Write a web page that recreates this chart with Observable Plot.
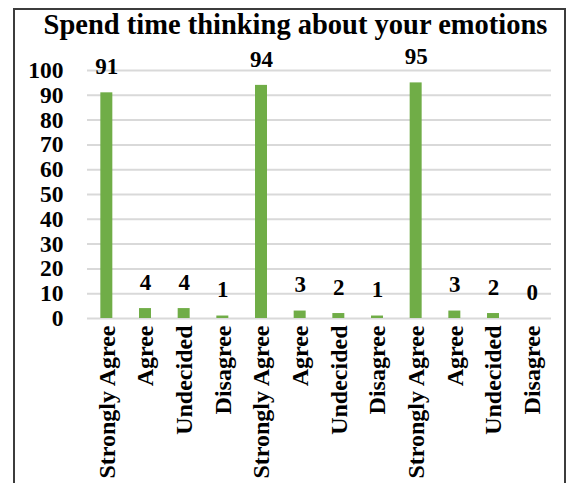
<!DOCTYPE html>
<html>
<head>
<meta charset="utf-8">
<script src="https://cdn.jsdelivr.net/npm/d3@7"></script>
<script src="https://cdn.jsdelivr.net/npm/@observablehq/plot@0.6"></script>
<style>
  html, body { margin: 0; padding: 0; background: #fff; }
  #wrap { position: relative; width: 570px; height: 483px; overflow: hidden; }
  #frame { position: absolute; left: 13px; top: 8px; width: 553px; height: 600px; border: 2px solid #3c3c3c; box-sizing: border-box; }
  #title { position: absolute; left: 20px; width: 551px; top: 9px; text-align: center; font-family: "Liberation Serif", "Times New Roman", serif; font-weight: bold; font-size: 28.5px; line-height: 32px; color: #000; white-space: nowrap; }
  #chart { position: absolute; left: 0; top: 0; }
</style>
</head>
<body>
<div id="wrap">
  <div id="frame"></div>
  <div id="title"></div>
  <div id="chart"></div>
</div>
<script>
const title = "Spend time thinking about your emotions";
const responses = ["Strongly Agree", "Agree", "Undecided", "Disagree",
                   "Strongly Agree", "Agree", "Undecided", "Disagree",
                   "Strongly Agree", "Agree", "Undecided", "Disagree"];
const values = [91, 4, 4, 1, 94, 3, 2, 1, 95, 3, 2, 0];
const yTicks = [0, 10, 20, 30, 40, 50, 60, 70, 80, 90, 100];

document.getElementById("title").textContent = title;

const data = values.map((v, i) => ({key: i, label: responses[i], value: v}));

const serif = "'Liberation Serif', 'Times New Roman', serif";
const chart = Plot.plot({
  width: 570,
  height: 483,
  marginTop: 70,
  marginBottom: 165,
  marginLeft: 87,
  marginRight: 19,
  style: {fontFamily: serif, fontWeight: "bold", color: "#000", background: "transparent", overflow: "visible"},
  x: {domain: d3.range(values.length), paddingInner: 0.69, paddingOuter: 0.345, round: false, label: null},
  y: {domain: [0, 100], label: null},
  marks: [
    Plot.gridY(yTicks, {stroke: "#d9d9d9", strokeOpacity: 1, strokeWidth: 2}),
    Plot.barY(data, {x: "key", y: "value", fill: "#70ad47"}),
    Plot.text(data, {x: "key", y: "value", text: d => String(d.value), dy: -26, fontSize: 23, fontWeight: "bold", fill: "#000"}),
    Plot.axisY(yTicks, {tickSize: 0, tickPadding: 24, fontSize: 23.5, fontWeight: "bold", fill: "#000", label: null}),
    Plot.axisX({tickFormat: i => responses[i], tickRotate: -90, tickSize: 0, tickPadding: 7, fontSize: 24, fontWeight: "bold", fill: "#000", label: null})
  ]
});
document.getElementById("chart").appendChild(chart);
</script>
</body>
</html>
